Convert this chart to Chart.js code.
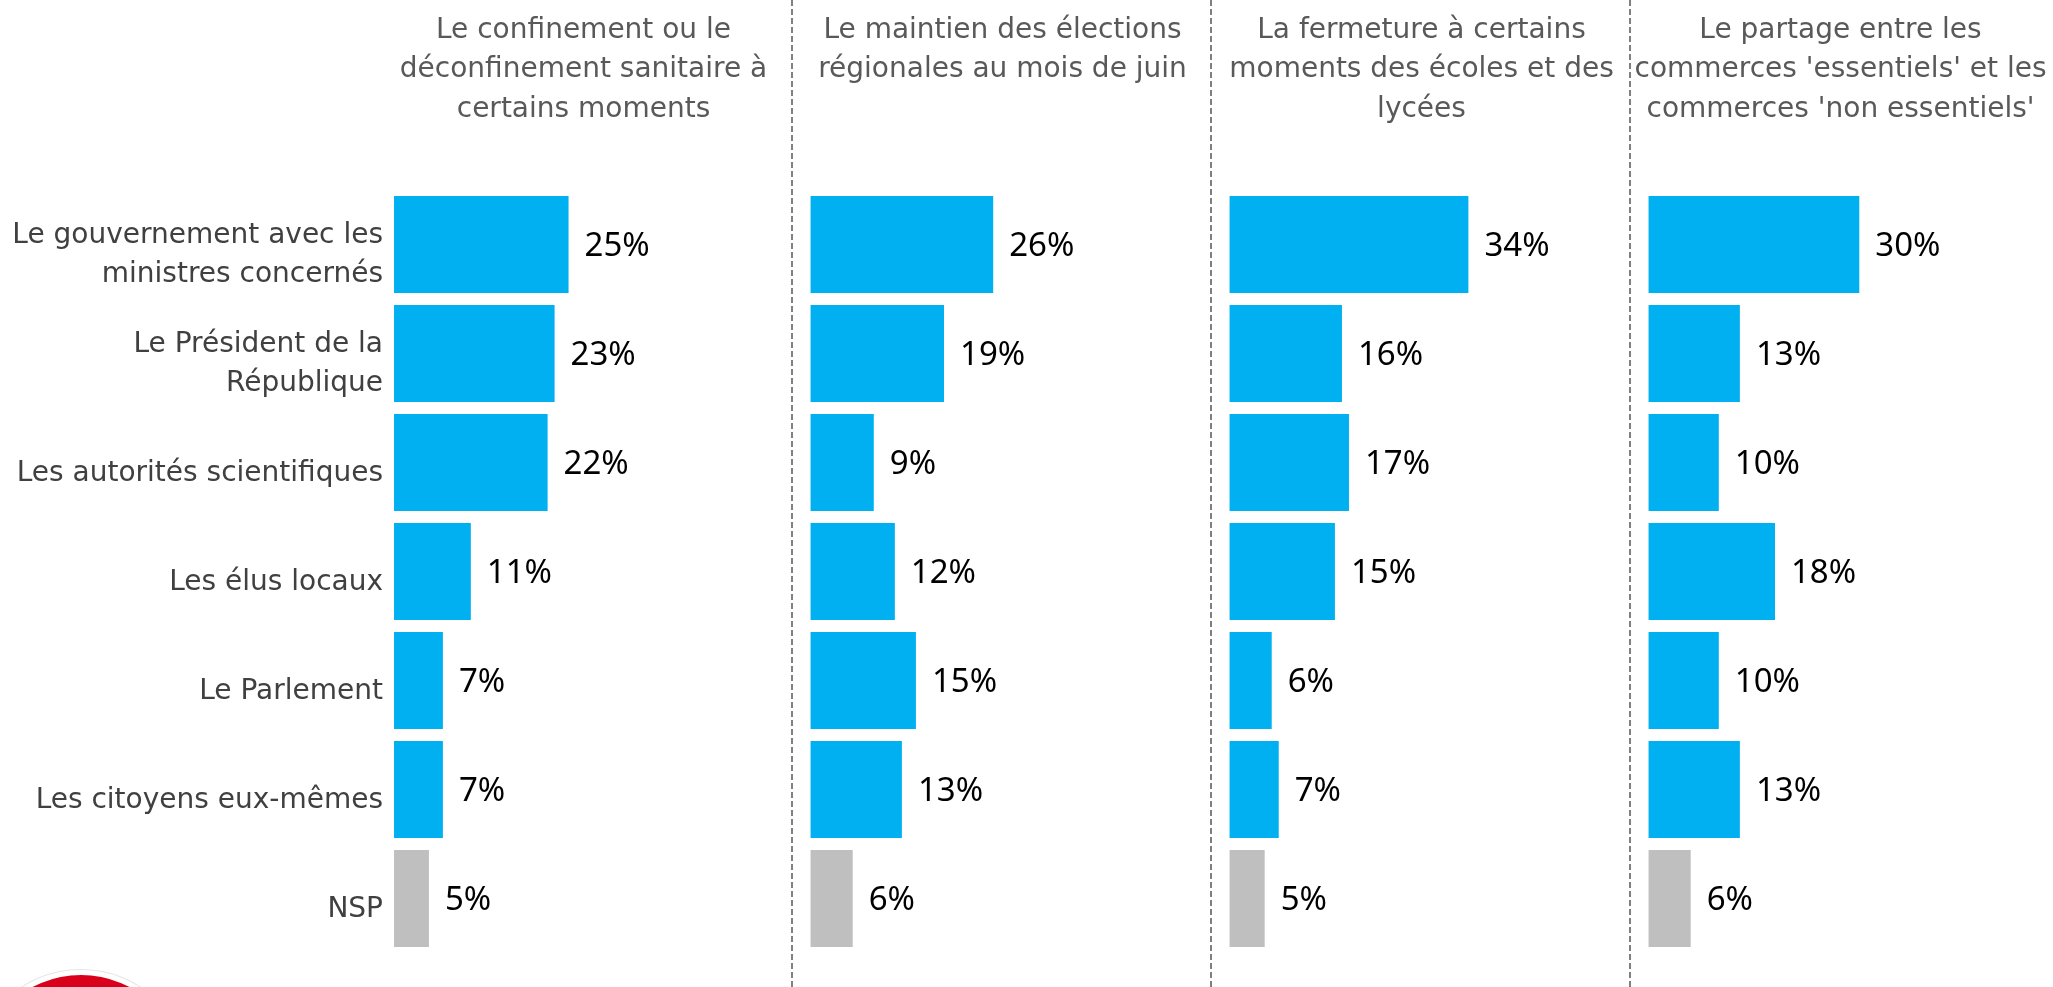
<!DOCTYPE html>
<html>
<head>
<meta charset="utf-8">
<script src="https://cdn.jsdelivr.net/npm/chart.js@4/dist/chart.umd.min.js"></script>
<style>
  html, body { margin: 0; padding: 0; background: #fff; }
  #chart { display: block; }
</style>
</head>
<body>
<canvas id="chart" width="2053" height="987"></canvas>
<script>
// Row labels (split over lines as in the original)
const categories = [
    ['Le gouvernement avec les', 'ministres concernés'],
    ['Le Président de la', 'République'],
    'Les autorités scientifiques',
    'Les élus locaux',
    'Le Parlement',
    'Les citoyens eux-mêmes',
    'NSP'
];

// One title per panel
const panelTitles = [
    ['Le confinement ou le', 'déconfinement sanitaire à', 'certains moments'],
    ['Le maintien des élections', 'régionales au mois de juin'],
    ['La fermeture à certains', 'moments des écoles et des', 'lycées'],
    ['Le partage entre les', "commerces 'essentiels' et les", "commerces 'non essentiels'"]
];

// Values in %, same order as categories
const confinement = [25, 23, 22, 11, 7, 7, 5];
const elections   = [26, 19, 9, 12, 15, 13, 6];
const ecoles      = [34, 16, 17, 15, 6, 7, 5];
const commerces   = [30, 13, 10, 18, 10, 13, 6];

const panels = [confinement, elections, ecoles, commerces];

const BLUE = '#00b0f0';
const GREY = '#bfbfbf';
const barColors = categories.map(c => c === 'NSP' ? GREY : BLUE);

/* Each panel gets its own x axis, stacked side by side.
   The first panel is a bit narrower because the row labels eat into it. */
const scales = {
    y: {
        type: 'category',
        position: 'left',
        grid: {display: false, drawTicks: false},
        border: {display: false},
        ticks: {
            color: '#404040',
            font: {family: 'DejaVu Sans', size: 28, lineHeight: 1.39},
            padding: 3,
            labelOffset: 11
        },
        afterFit: (scale) => {
            scale.width = 386;
            scale.paddingTop = 0;      // keep the label heights from shrinking the plot
            scale.paddingBottom = 0;
        }
    }
};
const datasets = [];
panels.forEach((values, i) => {
    const id = 'x' + (i + 1);
    const first = i === 0;
    scales[id] = {
        type: 'linear',
        position: 'bottom',
        stack: 'panels',
        stackWeight: first ? 407 : 419,
        min: first ? -1.15 : -2.5,
        max: 57.15,
        display: false
    };
    datasets.push({
        label: panelTitles[i].join(' '),
        data: values,
        xAxisID: id,
        yAxisID: 'y',
        grouped: false,
        backgroundColor: barColors,
        borderWidth: 0,
        barPercentage: 0.89,
        categoryPercentage: 1
    });
});

const decor = {
    id: 'decor',
    beforeDatasetsDraw(chart) {
        const ctx = chart.ctx;
        ctx.save();
        // dashed separators between panels
        ctx.strokeStyle = '#808080';
        ctx.lineWidth = 2;
        ctx.setLineDash([6, 3]);
        for (let i = 2; i <= panels.length; i++) {
            const x = Math.round(chart.scales['x' + i].left) - 1;
            ctx.beginPath();
            ctx.moveTo(x, 0);
            ctx.lineTo(x, chart.height);
            ctx.stroke();
        }
        ctx.setLineDash([]);
        // panel titles, centred on a full-width panel ending at the axis' right edge
        const panelW = chart.scales.x2.width;
        ctx.font = '28px "DejaVu Sans"';
        ctx.fillStyle = '#595959';
        ctx.textAlign = 'center';
        ctx.textBaseline = 'alphabetic';
        panelTitles.forEach((lines, i) => {
            const s = chart.scales['x' + (i + 1)];
            const cx = s.right - panelW / 2;
            lines.forEach((t, j) => ctx.fillText(t, cx, 38 + j * 39.3));
        });
        ctx.restore();
    },
    afterDatasetsDraw(chart) {
        const ctx = chart.ctx;
        ctx.save();
        ctx.font = '33px "Noto Sans"';
        ctx.fillStyle = '#000000';
        ctx.textAlign = 'left';
        ctx.textBaseline = 'middle';
        chart.data.datasets.forEach((ds, i) => {
            const meta = chart.getDatasetMeta(i);
            meta.data.forEach((bar, j) => {
                ctx.fillText(ds.data[j] + '%', bar.x + 16, bar.y + 2);
            });
        });
        ctx.restore();
    },
    afterDraw(chart) {
        // red logo peeking in the bottom-left corner
        const ctx = chart.ctx;
        ctx.save();
        ctx.beginPath();
        ctx.arc(81, 1079, 110, 0, Math.PI * 2);
        ctx.fillStyle = '#e6e6e6';
        ctx.fill();
        ctx.beginPath();
        ctx.arc(81, 1079, 109, 0, Math.PI * 2);
        ctx.fillStyle = '#ffffff';
        ctx.fill();
        ctx.beginPath();
        ctx.arc(81, 1079, 104, 0, Math.PI * 2);
        ctx.fillStyle = '#d9001b';
        ctx.fill();
        ctx.restore();
    }
};

new Chart(document.getElementById('chart'), {
    type: 'bar',
    data: {labels: categories, datasets: datasets},
    options: {
        indexAxis: 'y',
        responsive: false,
        animation: false,
        layout: {padding: {top: 190, bottom: 34, left: 0, right: 3}},
        scales: scales,
        plugins: {
            legend: {display: false},
            tooltip: {enabled: false},
            title: {display: false}
        }
    },
    plugins: [decor]
});
</script>
</body>
</html>
